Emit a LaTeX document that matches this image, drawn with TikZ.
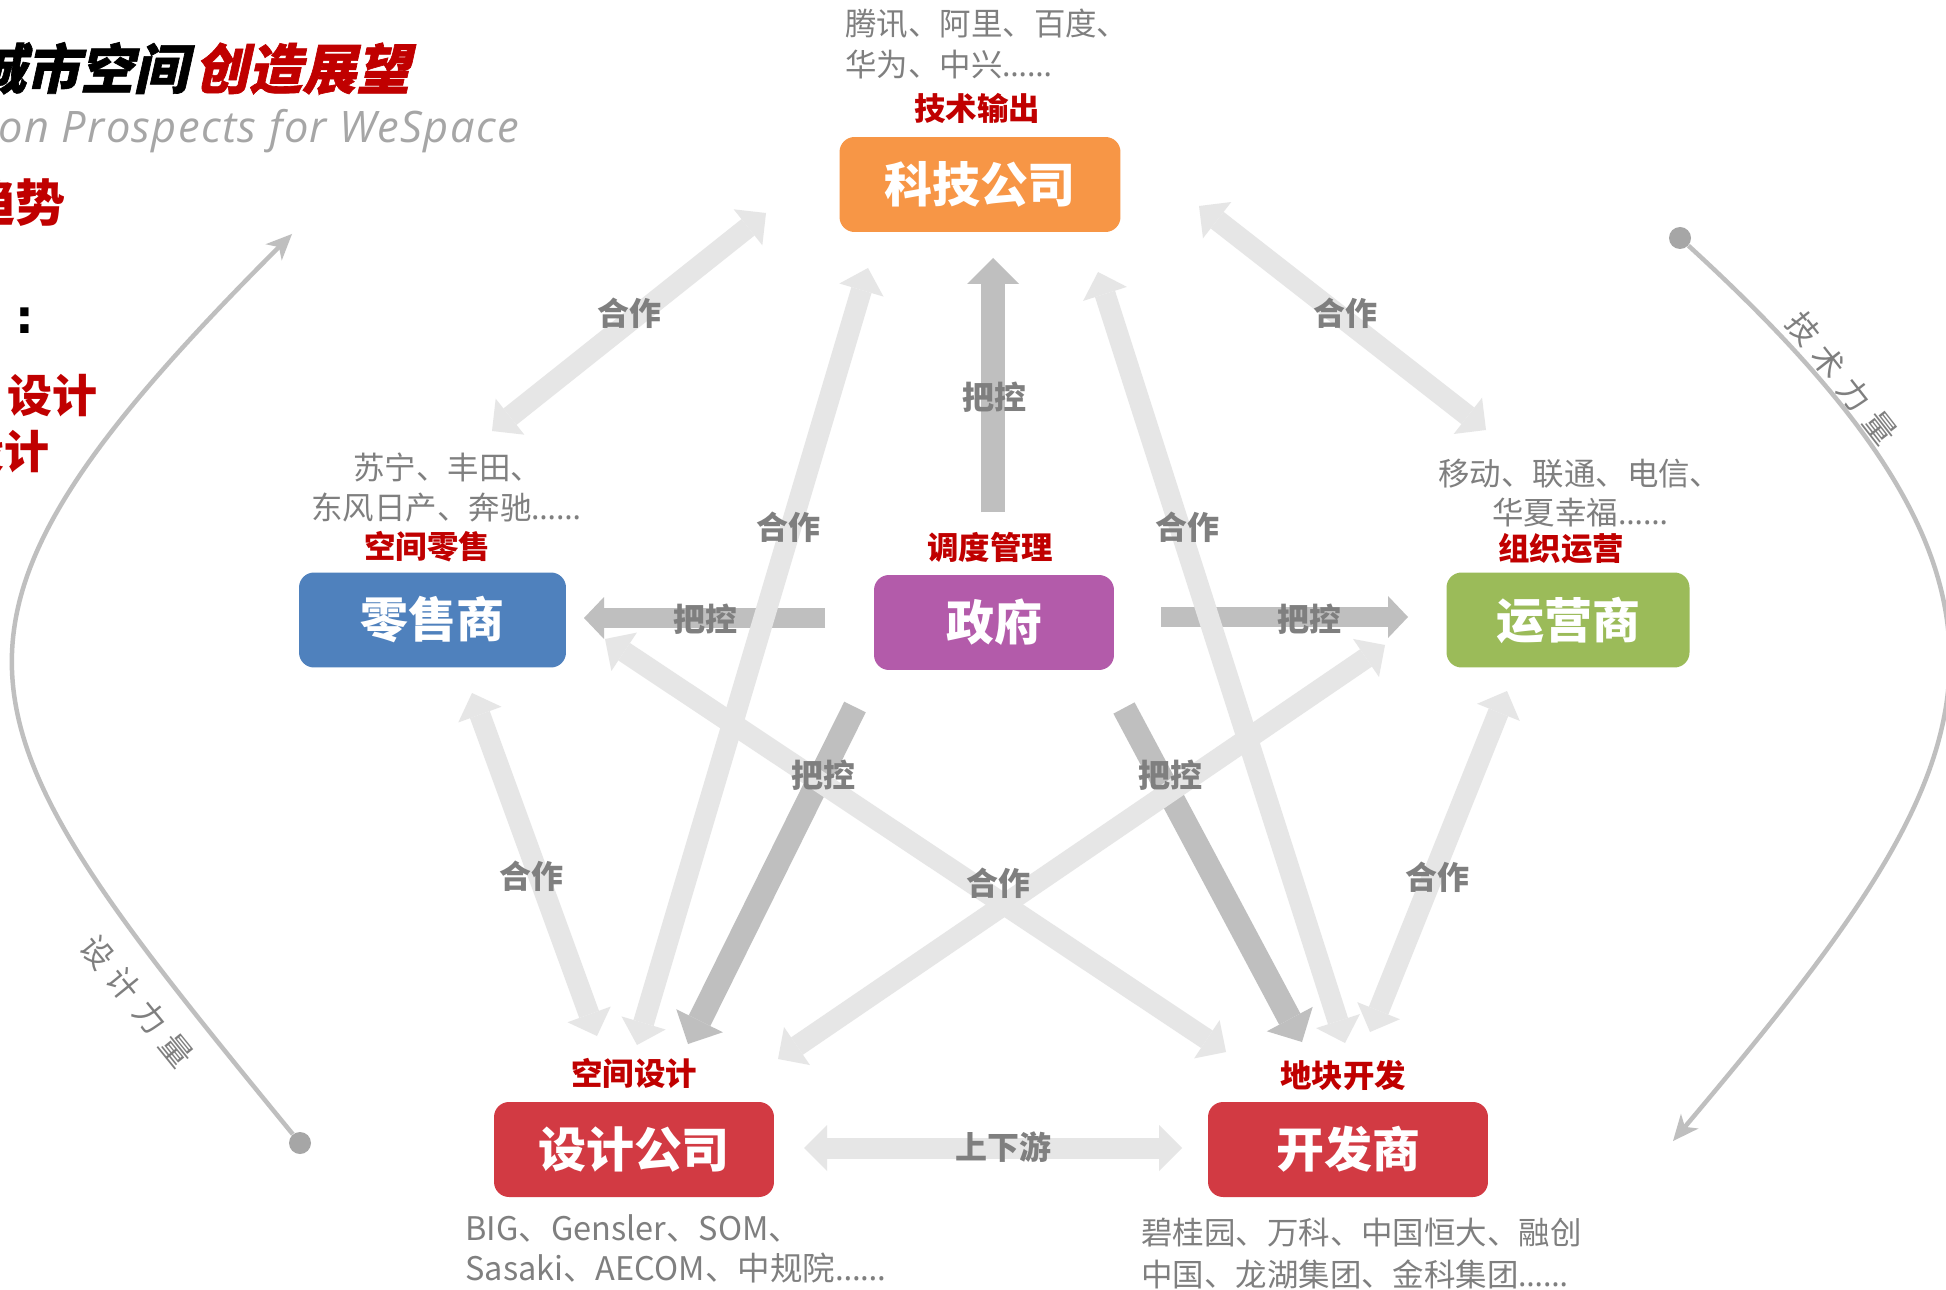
\documentclass[tikz,border=0pt]{standalone}
\usepackage{fontspec}
\setmainfont{Noto Sans CJK SC}
\newfontfamily\titlefont{Noto Sans CJK SC}[FakeSlant=0.22, FakeBold=1.2]
\newfontfamily\subfont{Open Sans}[LetterSpace=3]
\newfontfamily\ellfont{Noto Sans}
\newfontfamily\colonfont{DejaVu Sans}
\usetikzlibrary{arrows.meta}
\definecolor{torange}{HTML}{F79646}
\definecolor{tblue}{HTML}{4F81BD}
\definecolor{tpurple}{HTML}{B35BAA}
\definecolor{tgreen}{HTML}{9BBB59}
\definecolor{tred}{HTML}{D23A43}
\definecolor{lblred}{HTML}{C00000}
\definecolor{txtgray}{HTML}{7F7F7F}
\definecolor{lightarrow}{HTML}{E6E6E6}
\definecolor{darkarrow}{HTML}{BFBFBF}
\definecolor{curvegray}{HTML}{BFBFBF}
\definecolor{dotgray}{HTML}{A6A6A6}
\definecolor{subgray}{HTML}{A6A6A6}
\newcommand\ellip{{\ellfont ……}}
\newcommand\gap{\hspace{0.33em}}
\tikzset{
  box/.style={rounded corners=0.3cm, minimum height=1.9cm, inner sep=0pt, text=white,
    font={\fontsize{27.3pt}{30pt}\selectfont\bfseries}},
  role/.style={text=lblred, inner sep=0pt, font={\fontsize{17.9pt}{20pt}\selectfont\bfseries}},
  who/.style={text=txtgray, inner sep=0pt, font={\fontsize{17.9pt}{20pt}\selectfont}},
  lab/.style={text=txtgray, inner sep=0pt, font={\fontsize{18.2pt}{20pt}\selectfont\bfseries}},
  coop/.style={draw=lightarrow, line width=0.42cm,
    {Triangle[width=0.92cm,length=0.46cm,line width=0pt]}-{Triangle[width=0.92cm,length=0.46cm,line width=0pt]}},
  ctrl/.style={draw=darkarrow, line width=0.48cm, -{Triangle[width=1.04cm,length=0.52cm,line width=0pt]}},
  ctrlh/.style={draw=darkarrow, line width=0.4cm, -{Triangle[width=0.84cm,length=0.4cm,line width=0pt]}},
  curve/.style={draw=curvegray, line width=0.09cm, -{Stealth[length=0.52cm,width=0.46cm,inset=0.15cm,line width=0pt]}},
  dot/.style={circle, fill=dotgray, minimum size=0.44cm, inner sep=0pt},
  curvelab/.style={text=txtgray, inner sep=0pt, font={\fontsize{18pt}{20pt}\selectfont}}
}
\begin{document}
\begin{tikzpicture}[x=0.02cm,y=-0.02cm]
\path[use as bounding box, fill=white] (0,0) rectangle (1946,1290);

% title block (cropped at left edge)
\node[anchor=base east, inner sep=0pt, font={\fontsize{30.7pt}{32pt}\selectfont\titlefont\bfseries}] (titleA) at (188,89) {城市空间};
\node[anchor=base west, inner sep=0pt, text=lblred, font={\fontsize{30.7pt}{32pt}\selectfont\titlefont\bfseries}] (titleB) at (194,89) {创造展望};
\node[anchor=base east, inner sep=0pt, text=subgray, font={\fontsize{24.7pt}{26pt}\selectfont\subfont\itshape}] (subtitle) at (519,143) {on Prospects for WeSpace};
\node[anchor=base east, inner sep=0pt, text=lblred, font={\fontsize{28.5pt}{30pt}\selectfont\bfseries}] (trend) at (66,222) {趋势};
\node[inner sep=0pt, font={\fontsize{26.7pt}{28pt}\selectfont\colonfont\bfseries}] (colon) at (25,321) {:};
\node[anchor=base east, inner sep=0pt, text=lblred, font={\fontsize{25.6pt}{27pt}\selectfont\bfseries}] (des1) at (98,413) {设计};
\node[anchor=base east, inner sep=0pt, text=lblred, font={\fontsize{25.6pt}{27pt}\selectfont\bfseries}] (des2) at (50,468) {设计};

% side curves
\node[dot] (ldot) at (300,1143) {};
\coordinate (lend) at (292,234);
\draw[curve] (ldot) .. controls (-47,719) and (-110,636) .. (lend);
\node[curvelab, rotate=-51] (lcl) at (137,1001) {设\gap 计\gap 力\gap 量};
\node[dot] (rdot) at (1680,238) {};
\coordinate (rend) at (1673,1141);
\draw[curve] (rdot) .. controls (2086,609) and (1985,770) .. (rend);
\node[curvelab, rotate=-52] (rcl) at (1842,378) {技\gap 术\gap 力\gap 量};

% boxes
\node[box, fill=torange, minimum width=5.62cm] (tech) at (980,184.5) {科技公司};
\node[box, fill=tblue, minimum width=5.34cm] (retail) at (432.5,620) {零售商};
\node[box, fill=tpurple, minimum width=4.8cm] (gov) at (994,622.5) {政府};
\node[box, fill=tgreen, minimum width=4.86cm] (oper) at (1568,620) {运营商};
\node[box, fill=tred, minimum width=5.6cm] (design) at (634,1149.5) {设计公司};
\node[box, fill=tred, minimum width=5.6cm] (dev) at (1348,1149.5) {开发商};

% arrow end points
\coordinate (g1a) at (993,512);  \coordinate (g1b) at (993,258);
\coordinate (g2a) at (825,618);  \coordinate (g2b) at (584,618);
\coordinate (g3a) at (1161,617); \coordinate (g3b) at (1408,617);
\coordinate (g4a) at (855,707);  \coordinate (g4b) at (688,1044);
\coordinate (g5a) at (1124,708); \coordinate (g5b) at (1302,1042);
\coordinate (c1a) at (766,213);  \coordinate (c1b) at (492,431);
\coordinate (c2a) at (1199,206); \coordinate (c2b) at (1486,430);
\coordinate (c3a) at (637,1045); \coordinate (c3b) at (868,268);
\coordinate (c4a) at (1345,1043);\coordinate (c4b) at (1098,272);
\coordinate (c5a) at (605,639);  \coordinate (c5b) at (1226,1052);
\coordinate (c6a) at (778,1059); \coordinate (c6b) at (1385,645);
\coordinate (c7a) at (472,693);  \coordinate (c7b) at (597,1036);
\coordinate (c8a) at (1507,691); \coordinate (c8b) at (1370,1032);
\coordinate (c9a) at (804,1148); \coordinate (c9b) at (1182,1148);

% control arrows (government)
\draw[ctrl] (g1a) -- (g1b);
\draw[ctrlh] (g2a) -- (g2b);
\draw[ctrlh] (g3a) -- (g3b);
\draw[ctrl] (g4a) -- (g4b);
\draw[ctrl] (g5a) -- (g5b);

% cooperation arrows
\draw[coop] (c1a) -- (c1b);
\draw[coop] (c2a) -- (c2b);
\draw[coop] (c3a) -- (c3b);
\draw[coop] (c4a) -- (c4b);
\draw[coop] (c5a) -- (c5b);
\draw[coop] (c6a) -- (c6b);
\draw[coop] (c7a) -- (c7b);
\draw[coop] (c8a) -- (c8b);
\draw[coop] (c9a) -- (c9b);

% arrow labels
\node[lab] (l1) at (629,313) {合作};
\node[lab] (l2) at (1345,313) {合作};
\node[lab] (l3) at (994,397) {把控};
\node[lab] (l4) at (788,527) {合作};
\node[lab] (l5) at (1187,527) {合作};
\node[lab] (l6) at (705,619) {把控};
\node[lab] (l7) at (1309,619) {把控};
\node[lab] (l8) at (823,775) {把控};
\node[lab] (l9) at (1170,775) {把控};
\node[lab] (l10) at (998,883) {合作};
\node[lab] (l11) at (531,876) {合作};
\node[lab] (l12) at (1437,877) {合作};
\node[lab] (l13) at (1003,1147) {上下游};

% role labels
\node[role] (techrole) at (977,108) {技术输出};
\node[role] (retailrole) at (427,547) {空间零售};
\node[role] (govrole) at (990,547) {调度管理};
\node[role] (operrole) at (1561,549) {组织运营};
\node[role] (designrole) at (634,1073) {空间设计};
\node[role] (devrole) at (1343,1075) {地块开发};

% company lists
\node[who, anchor=west] (techwho1) at (845,24) {腾讯、阿里、百度、};
\node[who, anchor=west] (techwho2) at (845,65) {华为、中兴\ellip};
\node[who, anchor=west] (retailwho1) at (353,467) {苏宁、丰田、};
\node[who, anchor=west] (retailwho2) at (311,508) {东风日产、奔驰\ellip};
\node[who, anchor=west] (operwho1) at (1438,474) {移动、联通、电信、};
\node[who, anchor=west] (operwho2) at (1492,513) {华夏幸福\ellip};
\node[who, anchor=base west, font={\fontsize{18.5pt}{20pt}\selectfont}] (designwho1) at (465,1240) {BIG、Gensler、SOM、};
\node[who, anchor=base west, font={\fontsize{18.5pt}{20pt}\selectfont}] (designwho2) at (465,1280) {Sasaki、AECOM、中规院\ellip};
\node[who, anchor=west] (devwho1) at (1141,1233) {碧桂园、万科、中国恒大、融创};
\node[who, anchor=west] (devwho2) at (1141,1274) {中国、龙湖集团、金科集团\ellip};
\end{tikzpicture}
\end{document}
